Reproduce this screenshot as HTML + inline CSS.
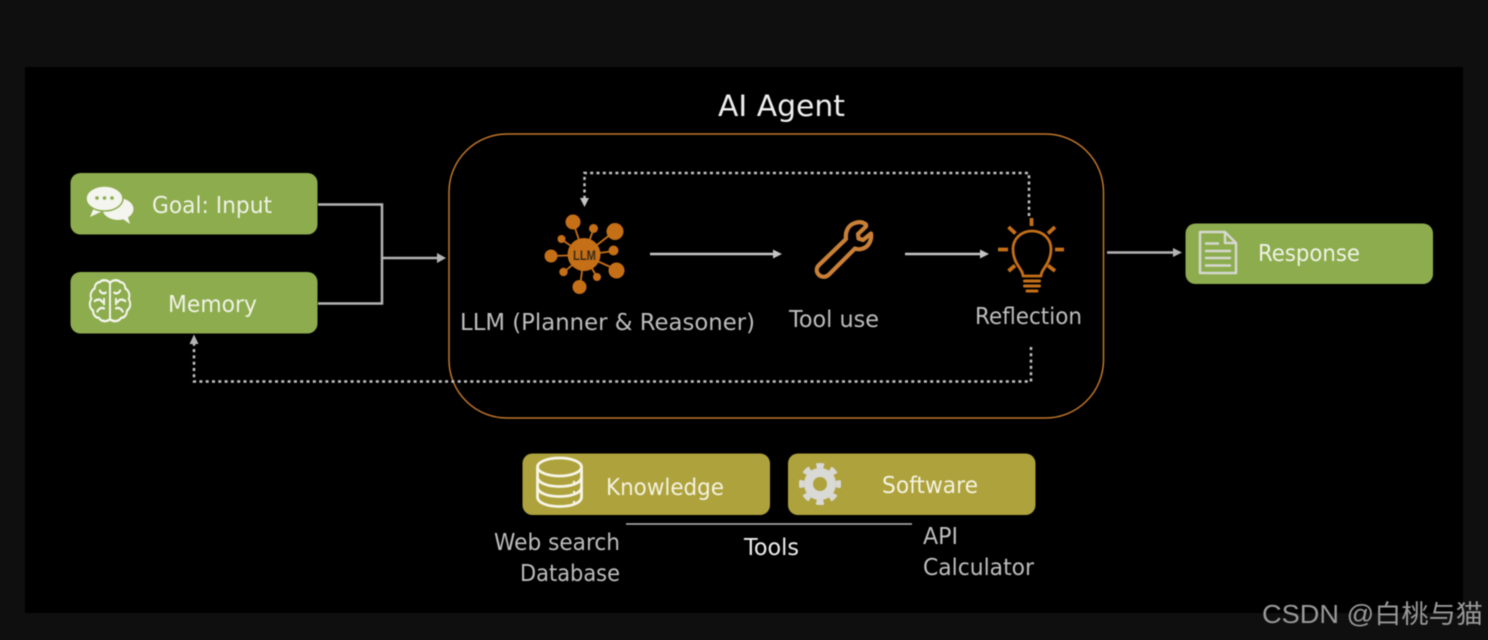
<!DOCTYPE html>
<html>
<head>
<meta charset="utf-8">
<style>
html,body{margin:0;padding:0;background:#0f0f0f;width:1488px;height:640px;overflow:hidden}
svg{display:block;filter:blur(.45px)}
text{font-family:"DejaVu Sans",sans-serif}
</style>
</head>
<body>
<svg width="1488" height="640" viewBox="0 0 1488 640" xmlns="http://www.w3.org/2000/svg">
<rect width="1488" height="640" fill="#0f0f0f"/>
<rect x="25" y="67" width="1438" height="546" fill="#000"/>

<text x="718" y="116" font-size="29" fill="#eeeeee" textLength="127" lengthAdjust="spacingAndGlyphs">AI Agent</text>
<rect x="449" y="134" width="654.500" height="284" rx="58" fill="none" stroke="#c0762a" stroke-width="1.500"/>

<!-- green boxes -->
<rect x="70.500" y="173" width="247" height="61.500" rx="10" fill="#8cac4d"/>
<rect x="70.500" y="272" width="247" height="61.500" rx="10" fill="#8cac4d"/>
<rect x="1185.500" y="223.500" width="247.500" height="60.500" rx="10" fill="#8cac4d"/>
<!-- gold boxes -->
<rect x="522.500" y="453.500" width="247.500" height="61.500" rx="10" fill="#aea23c"/>
<rect x="788" y="453.500" width="247.500" height="61.500" rx="10" fill="#aea23c"/>

<!-- box labels -->
<text x="152" y="213" font-size="23.500" fill="#f0f2e6" textLength="120" lengthAdjust="spacingAndGlyphs">Goal: Input</text>
<text x="168" y="312" font-size="23.500" fill="#f0f2e6" textLength="89" lengthAdjust="spacingAndGlyphs">Memory</text>
<text x="1258" y="261" font-size="23.500" fill="#f0f2e6" textLength="102" lengthAdjust="spacingAndGlyphs">Response</text>
<text x="606" y="495" font-size="23.500" fill="#f4f2e0" textLength="118" lengthAdjust="spacingAndGlyphs">Knowledge</text>
<text x="882" y="493" font-size="23.500" fill="#f4f2e0" textLength="96" lengthAdjust="spacingAndGlyphs">Software</text>

<!-- agent labels -->
<text x="460" y="330" font-size="23.500" fill="#bdbdbd" textLength="295" lengthAdjust="spacingAndGlyphs">LLM (Planner &amp; Reasoner)</text>
<text x="789" y="327" font-size="23.500" fill="#bdbdbd" textLength="90" lengthAdjust="spacingAndGlyphs">Tool use</text>
<text x="975" y="324" font-size="23.500" fill="#bdbdbd" textLength="107" lengthAdjust="spacingAndGlyphs">Reflection</text>

<!-- tools labels -->
<text x="494" y="550" font-size="23.500" fill="#bdbdbd" textLength="126" lengthAdjust="spacingAndGlyphs">Web search</text>
<text x="520" y="581" font-size="23.500" fill="#bdbdbd" textLength="100" lengthAdjust="spacingAndGlyphs">Database</text>
<text x="744" y="555" font-size="23.500" fill="#eeeeee" textLength="55" lengthAdjust="spacingAndGlyphs">Tools</text>
<text x="923" y="544" font-size="23.500" fill="#bdbdbd" textLength="35" lengthAdjust="spacingAndGlyphs">API</text>
<text x="923" y="575" font-size="23.500" fill="#bdbdbd" textLength="111" lengthAdjust="spacingAndGlyphs">Calculator</text>

<line x1="626" y1="524" x2="912" y2="524" stroke="#b5b5b5" stroke-width="1.500"/>

<!-- connectors -->
<g fill="none" stroke="#b4b4b4" stroke-width="2.500">
<path d="M318 204.500H382V303.500H318"/>
<path d="M382 258H438"/>
</g>
<path d="M437 253L446 258L437 263Z" fill="#b4b4b4"/>
<path d="M650 254H774" fill="none" stroke="#c4c4c4" stroke-width="2.500"/>
<path d="M773 249.500L782 254L773 258.500Z" fill="#c4c4c4"/>
<path d="M905 254H981" fill="none" stroke="#c4c4c4" stroke-width="2.500"/>
<path d="M980 249.500L989 254L980 258.500Z" fill="#c4c4c4"/>
<path d="M1107 252.500H1175" fill="none" stroke="#b4b4b4" stroke-width="2.500"/>
<path d="M1173 248L1182 252.500L1173 257Z" fill="#b4b4b4"/>

<!-- dotted -->
<g fill="none" stroke="#c4c4c4" stroke-width="2.500" stroke-dasharray="3 3.300">
<path d="M1029 216V173H584.500V198"/>
<path d="M1031 347V381.500H194V343"/>
</g>
<path d="M580 198H589L584.500 207Z" fill="#c4c4c4"/>
<path d="M189.500 344H198.500L194 334.500Z" fill="#b4b4b4"/>

<!-- chat icon -->
<g fill="#f4f5ee">
<ellipse cx="118" cy="209" rx="15.500" ry="11"/>
<path d="M120 217L130 224L127 214Z"/>
<path d="M95 205L90 217L107 209Z"/>
<ellipse cx="104.500" cy="198.500" rx="18.500" ry="12.500" stroke="#8cac4d" stroke-width="1.500"/>
</g>
<circle cx="97" cy="198" r="1.800" fill="#8cac4d"/>
<circle cx="104.500" cy="198" r="1.800" fill="#8cac4d"/>
<circle cx="112" cy="198" r="1.800" fill="#8cac4d"/>

<!-- brain icon -->
<g transform="translate(110,300) scale(.85,1.050) translate(-110,-300)" fill="none" stroke="#f4f5ee" stroke-width="2.300" stroke-linecap="round" stroke-linejoin="round">
<path d="M110 283V319"/>
<path d="M110 284c-2-3-9-4-12-1-4 0-6 3-6 6-4 2-6 6-4 10-3 4-2 9 2 11 0 4 3 7 7 7 3 4 10 4 13 1"/>
<path d="M110 284c2-3 9-4 12-1 4 0 6 3 6 6 4 2 6 6 4 10 3 4 2 9-2 11 0 4-3 7-7 7-3 4-10 4-13 1"/>
<path d="M98 291c2 3 5 3 7 2M92 301c3-2 7-2 9 1M95 311c2-3 5-4 8-3M103 299v5"/>
<path d="M122 291c-2 3-5 3-7 2M128 301c-3-2-7-2-9 1M125 311c-2-3-5-4-8-3M117 299v5"/>
</g>

<!-- doc icon -->
<g fill="none" stroke="#d6d8d0" stroke-width="2.500" stroke-linejoin="round">
<path d="M1200 232H1225L1236 243V273H1200Z"/>
<path d="M1225 232V243H1236"/>
</g>
<path d="M1205 243.500H1219M1205 251H1231M1205 258H1231M1205 265.500H1231" stroke="#d6d8d0" stroke-width="2.500" fill="none"/>

<!-- database icon -->
<g fill="none" stroke="#f6f5e8" stroke-width="2.800">
<ellipse cx="559.500" cy="467" rx="22" ry="9"/>
<path d="M537.500 467V497C537.500 503 548 506.500 559.500 506.500S581.500 503 581.500 497V467"/>
<path d="M537.500 477C537.500 483 548 486.500 559.500 486.500S581.500 483 581.500 477"/>
<path d="M537.500 487C537.500 493 548 496.500 559.500 496.500S581.500 493 581.500 487"/>
</g>
<g fill="#f6f5e8"><circle cx="574" cy="482" r="1.200"/><circle cx="574" cy="492" r="1.200"/><circle cx="574" cy="502" r="1.200"/></g>

<!-- gear icon -->
<g fill="none" stroke="#d9d9d6">
<circle cx="820" cy="484" r="11.500" stroke-width="9"/>
<circle cx="820" cy="484" r="18.500" stroke-width="5" stroke-dasharray="7.500 7.025" stroke-dashoffset="3.750"/>
</g>

<!-- LLM icon -->
<g stroke="#c56f17" stroke-width="1.800">
<path d="M584 255L573 222M584 255L594 228M584 255L615 231M584 255L561 239M584 255L551 256M584 255L614 251M584 255L617 270M584 255L564 272M584 255L580 287M584 255L597 277"/>
</g>
<g fill="#c56f17">
<circle cx="584" cy="254.500" r="16.500"/>
<circle cx="573" cy="222" r="7.500"/>
<circle cx="593.500" cy="228.500" r="4.500"/>
<circle cx="615" cy="231.500" r="8.500"/>
<circle cx="561.500" cy="239" r="4"/>
<circle cx="551" cy="256" r="6.500"/>
<circle cx="613.500" cy="250.500" r="5"/>
<circle cx="616.500" cy="270.500" r="8"/>
<circle cx="563.500" cy="272" r="4.200"/>
<circle cx="579.500" cy="287" r="7"/>
<circle cx="597" cy="277" r="4"/>
</g>
<text x="573" y="260" font-size="13.500" font-weight="bold" fill="#3a2c18" textLength="23" lengthAdjust="spacingAndGlyphs" style="font-family:'Liberation Sans',sans-serif">LLM</text>

<!-- wrench -->
<path d="M866 226.500l-8 7.500 .5 4.500 4.500 1.500 8-6.500c1 6-2 13-8 15-3 1-6 1-8 0l-26 26c-3 3-7 3-10 .5-3-3-3-7 0-10l27-26c-1-7 2-14 9-16 4-1.500 8-1 11 1.500z" fill="none" stroke="#c98036" stroke-width="4.200" stroke-linejoin="round"/>

<!-- bulb -->
<g fill="none" stroke="#c56f17" stroke-width="2.800" stroke-linecap="round" stroke-linejoin="round">
<path d="M1023 276c0-7-10-12-10-27 0-10 8-18 19-18s19 8 19 18c0 15-10 20-10 27Z"/>
</g>
<g fill="none" stroke="#c56f17" stroke-width="3" stroke-linecap="round">
<path d="M1024.500 281H1039.500M1024.500 286H1039.500M1027 291H1037"/>
</g>
<g fill="none" stroke="#c56f17" stroke-width="3.800">
<path d="M1031.500 218V226M1008.500 227L1015.500 233.500M1055 227L1048 233.500M998 249.500H1008M1055 249.500H1064M1008.500 271L1015 265.500M1055 271L1048 265.500"/>
</g>

<!-- watermark -->
<text x="1262" y="623" font-size="25.500" fill="#999999" style="font-family:'Liberation Sans','Noto Sans CJK SC',sans-serif" textLength="221" lengthAdjust="spacingAndGlyphs">CSDN @白桃与猫</text>
</svg>
</body>
</html>
